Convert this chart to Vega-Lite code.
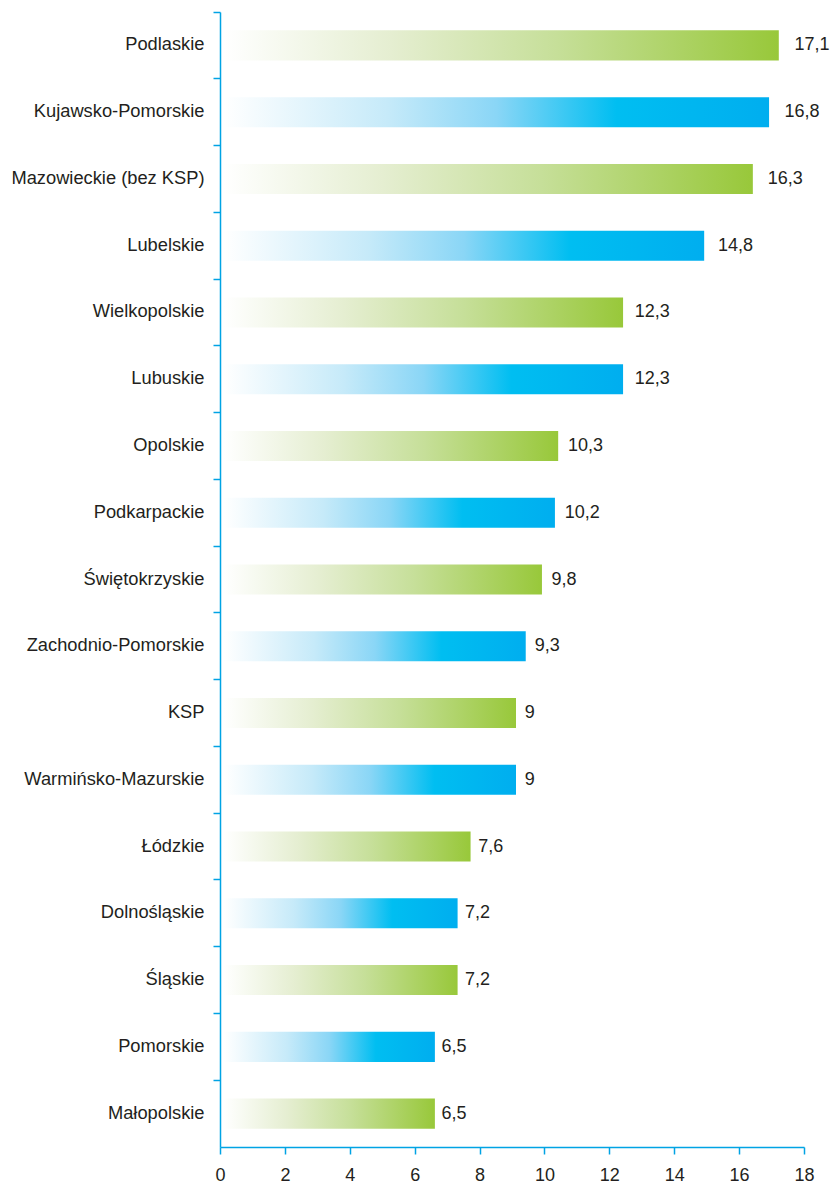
{
  "$schema": "https://vega.github.io/schema/vega-lite/v6.json",
  "autosize": {"type": "none"},
  "padding": {"left": 220, "top": 12, "right": 30, "bottom": 39},
  "width": 584,
  "height": 1135,
  "background": "white",
  "config": {"view": {"stroke": null}, "font": "Liberation Sans"},
  "data": {
    "values": [
      {"region": "Podlaskie", "value": 17.1, "label": "17,1", "group": "green"},
      {"region": "Kujawsko-Pomorskie", "value": 16.8, "label": "16,8", "group": "blue"},
      {"region": "Mazowieckie (bez KSP)", "value": 16.3, "label": "16,3", "group": "green"},
      {"region": "Lubelskie", "value": 14.8, "label": "14,8", "group": "blue"},
      {"region": "Wielkopolskie", "value": 12.3, "label": "12,3", "group": "green"},
      {"region": "Lubuskie", "value": 12.3, "label": "12,3", "group": "blue"},
      {"region": "Opolskie", "value": 10.3, "label": "10,3", "group": "green"},
      {"region": "Podkarpackie", "value": 10.2, "label": "10,2", "group": "blue"},
      {"region": "Świętokrzyskie", "value": 9.8, "label": "9,8", "group": "green"},
      {"region": "Zachodnio-Pomorskie", "value": 9.3, "label": "9,3", "group": "blue"},
      {"region": "KSP", "value": 9, "label": "9", "group": "green"},
      {"region": "Warmińsko-Mazurskie", "value": 9, "label": "9", "group": "blue"},
      {"region": "Łódzkie", "value": 7.6, "label": "7,6", "group": "green"},
      {"region": "Dolnośląskie", "value": 7.2, "label": "7,2", "group": "blue"},
      {"region": "Śląskie", "value": 7.2, "label": "7,2", "group": "green"},
      {"region": "Pomorskie", "value": 6.5, "label": "6,5", "group": "blue"},
      {"region": "Małopolskie", "value": 6.5, "label": "6,5", "group": "green"}
    ]
  },
  "encoding": {
    "y": {
      "field": "region",
      "type": "nominal",
      "sort": null,
      "scale": {
        "domain": ["Podlaskie", "Kujawsko-Pomorskie", "Mazowieckie (bez KSP)", "Lubelskie", "Wielkopolskie", "Lubuskie", "Opolskie", "Podkarpackie", "Świętokrzyskie", "Zachodnio-Pomorskie", "KSP", "Warmińsko-Mazurskie", "Łódzkie", "Dolnośląskie", "Śląskie", "Pomorskie", "Małopolskie"],
        "paddingInner": 0,
        "paddingOuter": 0
      },
      "axis": {
        "title": null,
        "bandPosition": 0,
        "domainColor": "#00a3e4",
        "domainWidth": 1.5,
        "tickColor": "#00a3e4",
        "tickWidth": 1.5,
        "tickSize": 7,
        "labelFontSize": 18.3,
        "labelColor": "#231f20",
        "labelPadding": 9,
        "labelFont": "Liberation Sans",
        "labelLimit": 300
      }
    }
  },
  "resolve": {"scale": {"x": "independent"}, "axis": {"x": "independent"}},
  "layer": [
    {
      "layer": [
        {
          "transform": [{"filter": "datum.group === 'green'"}],
          "mark": {
            "type": "bar",
            "height": {"band": 0.45},
            "xOffset": 4,
            "color": {
              "gradient": "linear",
              "x1": 0, "y1": 0, "x2": 1, "y2": 0,
              "stops": [
                {"offset": 0, "color": "#ffffff"},
                {"offset": 0.3, "color": "#e5eed1"},
                {"offset": 0.6, "color": "#c6df99"},
                {"offset": 1, "color": "#98c83a"}
              ]
            }
          },
          "encoding": {
            "x": {
              "field": "value",
              "type": "quantitative",
              "scale": {"domain": [0, 18], "nice": false},
              "axis": {
                "title": null,
                "values": [0, 2, 4, 6, 8, 10, 12, 14, 16, 18],
                "grid": false,
                "domainColor": "#00a3e4",
                "domainWidth": 1.5,
                "tickColor": "#00a3e4",
                "tickWidth": 1.5,
                "tickSize": 7,
                "labelFontSize": 18,
                "labelColor": "#231f20",
                "labelPadding": 12,
                "labelFont": "Liberation Sans",
                "labelFlush": false
              }
            }
          }
        },
        {
          "transform": [{"filter": "datum.group === 'blue'"}],
          "mark": {
            "type": "bar",
            "height": {"band": 0.45},
            "xOffset": 4,
            "color": {
              "gradient": "linear",
              "x1": 0, "y1": 0, "x2": 1, "y2": 0,
              "stops": [
                {"offset": 0, "color": "#ffffff"},
                {"offset": 0.3, "color": "#c6eaf9"},
                {"offset": 0.5, "color": "#8ad6f6"},
                {"offset": 0.72, "color": "#00bef1"},
                {"offset": 1, "color": "#00aeef"}
              ]
            }
          },
          "encoding": {
            "x": {"field": "value", "type": "quantitative"}
          }
        }
      ]
    },
    {
      "mark": {
        "type": "text",
        "align": "left",
        "baseline": "middle",
        "fontSize": 18,
        "color": "#231f20",
        "font": "Liberation Sans"
      },
      "encoding": {
        "x": {
          "field": "value",
          "type": "quantitative",
          "scale": {"domain": [-0.156, 17.386], "nice": false, "zero": false},
          "axis": null
        },
        "text": {"field": "label"}
      }
    }
  ]
}
